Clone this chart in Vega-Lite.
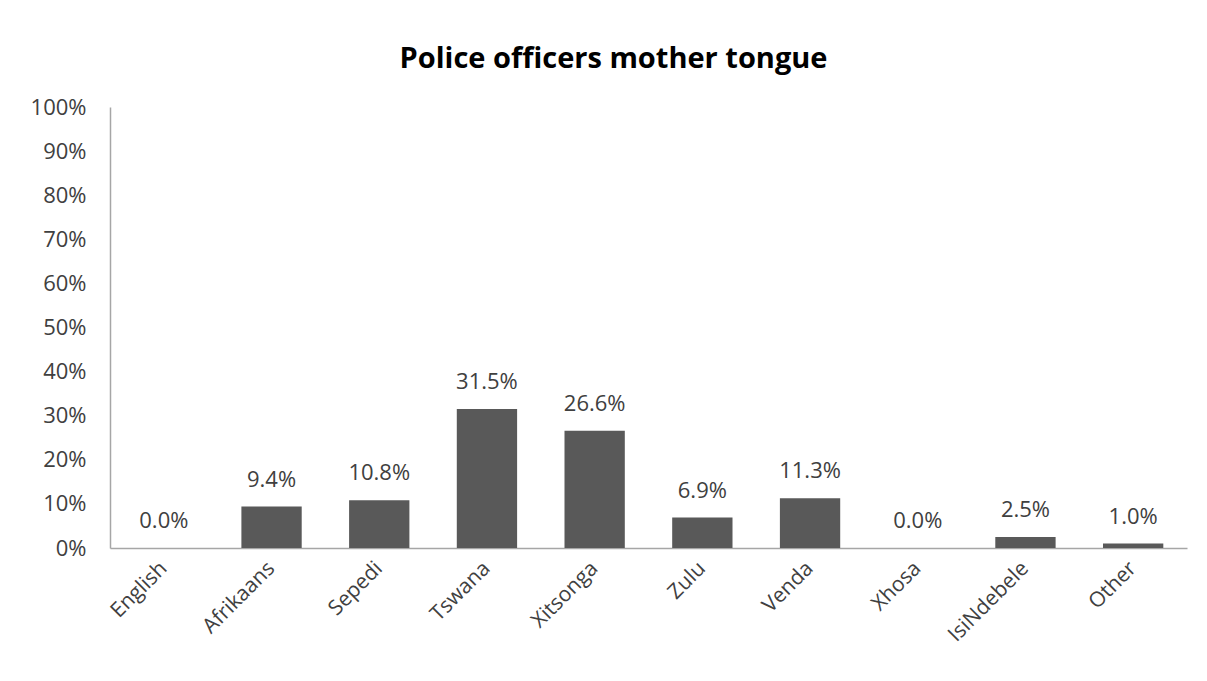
{
  "$schema": "https://vega.github.io/schema/vega-lite/v6.json",
  "autosize": "none",
  "width": 1077,
  "height": 441,
  "padding": {"left": 110, "top": 107, "right": 20, "bottom": 133},
  "background": "white",
  "title": {
    "text": "Police officers mother tongue",
    "font": "Open Sans",
    "fontSize": 29,
    "fontWeight": "bold",
    "color": "#000000",
    "anchor": "middle",
    "dx": -35,
    "offset": 22
  },
  "data": {
    "values": [
      {"language": "English", "share": 0.0},
      {"language": "Afrikaans", "share": 0.094},
      {"language": "Sepedi", "share": 0.108},
      {"language": "Tswana", "share": 0.315},
      {"language": "Xitsonga", "share": 0.266},
      {"language": "Zulu", "share": 0.069},
      {"language": "Venda", "share": 0.113},
      {"language": "Xhosa", "share": 0.0},
      {"language": "IsiNdebele", "share": 0.025},
      {"language": "Other", "share": 0.01}
    ]
  },
  "encoding": {
    "x": {
      "field": "language",
      "type": "nominal",
      "sort": null,
      "scale": {"paddingInner": 0.44, "paddingOuter": 0.22},
      "axis": {
        "title": null,
        "labelAngle": -45,
        "labelAlign": "right",
        "labelBaseline": "middle",
        "labelFont": "Open Sans",
        "labelFontSize": 21,
        "labelColor": "#404040",
        "labelPadding": 17,
        "ticks": false,
        "domainColor": "#A6A6A6",
        "domainWidth": 1.5
      }
    },
    "y": {
      "field": "share",
      "type": "quantitative",
      "scale": {"domain": [0, 1]},
      "axis": {
        "title": null,
        "format": ".0%",
        "values": [0, 0.1, 0.2, 0.3, 0.4, 0.5, 0.6, 0.7, 0.8, 0.9, 1],
        "grid": false,
        "ticks": false,
        "labelFont": "Open Sans",
        "labelFontSize": 22,
        "labelColor": "#404040",
        "labelPadding": 24,
        "domainColor": "#A6A6A6",
        "domainWidth": 1.5
      }
    }
  },
  "layer": [
    {"mark": {"type": "bar", "color": "#595959"}},
    {
      "mark": {"type": "text", "baseline": "bottom", "dy": -15, "font": "Open Sans", "fontSize": 22, "color": "#404040"},
      "encoding": {"text": {"field": "share", "type": "quantitative", "format": ".1%"}}
    }
  ],
  "config": {"view": {"stroke": null}}
}
